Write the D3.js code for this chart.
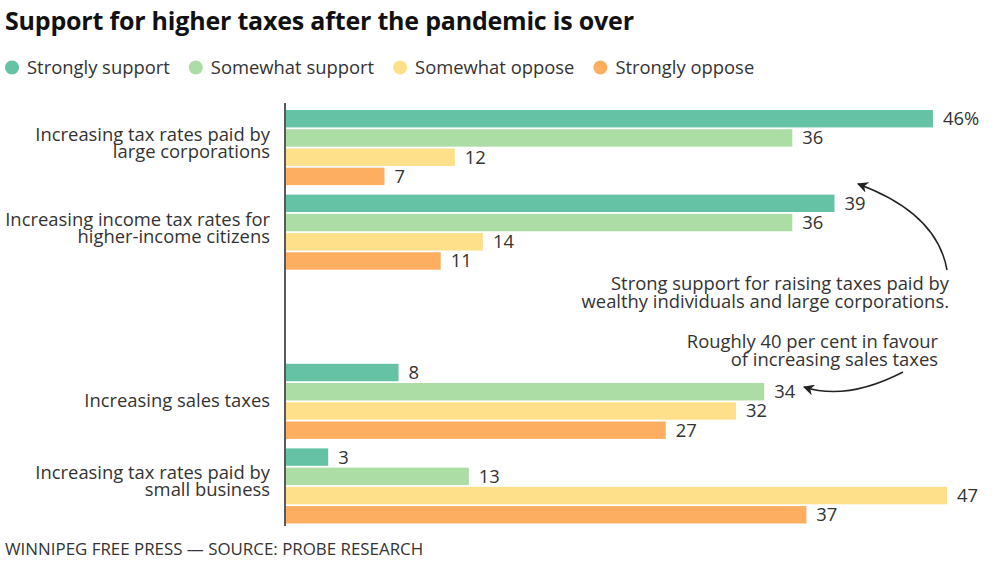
<!DOCTYPE html>
<html lang="en">
<head>
    <meta charset="UTF-8">
    <title>Support for higher taxes</title>
    <script src="https://cdn.jsdelivr.net/npm/d3@7"></script>
    <style>
        body { margin: 0; background: #fff; }
        text { font-family: "Open Sans", sans-serif; fill: #333; }
    </style>
</head>
<body>
    <svg width="999" height="561" id="mainsvg"></svg>
    <script>
        // data
        const categories = [
            'Increasing tax rates paid by\nlarge corporations',
            'Increasing income tax rates for\nhigher-income citizens',
            '',   // empty slot, leaves room for the notes
            'Increasing sales taxes',
            'Increasing tax rates paid by\nsmall business'
        ];
        const seriesNames = ['Strongly support', 'Somewhat support', 'Somewhat oppose', 'Strongly oppose'];
        const seriesColors = ['#66c2a5', '#abdda4', '#fee08b', '#fdae61'];
        const values = [
            [46, 36, 12, 7],
            [39, 36, 14, 11],
            null,
            [8, 34, 32, 27],
            [3, 13, 47, 37]
        ];
        const notes = [
            { lines: ['Strong support for raising taxes paid by', 'wealthy individuals and large corporations.'], x: 949, y: 290,
              from: [947, 270], ctrl: [937, 213], to: [858, 184] },
            { lines: ['Roughly 40 per cent in favour', 'of increasing sales taxes'], x: 938, y: 348,
              from: [903, 372], ctrl: [847, 401], to: [804, 387] }
        ];

        const svg = d3.select('#mainsvg');
        const keys = categories.map((c, i) => 'c' + i);
        const fs = 18.4;

        const x = d3.scaleLinear().domain([0, 47]).range([286, 947]);
        const y0 = d3.scaleBand().domain(keys).range([110, 523.5]).paddingInner(0.112).paddingOuter(0);
        const y1 = d3.scaleBand().domain(seriesNames).range([0, y0.bandwidth()]).paddingInner(0.094);

        // title
        svg.append('text')
            .attr('x', 5).attr('y', 30)
            .attr('font-size', 25).attr('font-weight', 700)
            .attr('letter-spacing', -0.2)
            .style('fill', '#111')
            .text('Support for higher taxes after the pandemic is over');

        // legend
        let lx = 12;
        seriesNames.forEach((s, i) => {
            svg.append('circle').attr('cx', lx).attr('cy', 67.5).attr('r', 7).attr('fill', seriesColors[i]);
            const t = svg.append('text')
                .attr('x', lx + 15).attr('y', 67.5).attr('dy', '0.35em')
                .attr('font-size', fs).text(s);
            lx += 15 + t.node().getComputedTextLength() + 26;
        });

        // bars
        const groups = svg.selectAll('g.group')
            .data(values.map((v, i) => ({ key: keys[i], label: categories[i], vals: v })).filter(d => d.vals))
            .join('g').attr('class', 'group')
            .attr('transform', d => `translate(0,${y0(d.key)})`);

        groups.selectAll('rect')
            .data(d => d.vals.map((v, j) => ({ s: seriesNames[j], v, j })))
            .join('rect')
            .attr('x', x(0))
            .attr('y', d => y1(d.s))
            .attr('width', d => x(d.v) - x(0))
            .attr('height', y1.bandwidth())
            .attr('fill', d => seriesColors[d.j]);

        groups.selectAll('text.val')
            .data((d, i) => d.vals.map((v, j) => ({ s: seriesNames[j], v, first: i === 0 && j === 0 })))
            .join('text').attr('class', 'val')
            .attr('x', d => x(d.v) + 10)
            .attr('y', d => y1(d.s) + y1.bandwidth() / 2)
            .attr('dy', '0.35em')
            .attr('font-size', fs)
            .text(d => d.first ? d.v + '%' : d.v);

        // category labels
        groups.each(function(d) {
            const lines = d.label.split('\n');
            const c = y0.bandwidth() / 2;
            const t = d3.select(this).append('text')
                .attr('text-anchor', 'end')
                .attr('font-size', fs);
            lines.forEach((l, k) => {
                const off = lines.length === 1 ? 6 : 2 + (k - (lines.length - 1) / 2) * 17;
                t.append('tspan').attr('x', 270).attr('y', c + off).text(l);
            });
        });

        // axis line
        svg.append('line')
            .attr('x1', 285).attr('x2', 285)
            .attr('y1', 103).attr('y2', 526)
            .attr('stroke', '#222').attr('stroke-width', 1.5);

        // notes with arrows
        svg.append('defs').append('marker')
            .attr('id', 'arrow')
            .attr('viewBox', '0 0 10 10')
            .attr('refX', 9).attr('refY', 5)
            .attr('markerWidth', 11).attr('markerHeight', 11)
            .attr('markerUnits', 'userSpaceOnUse')
            .attr('orient', 'auto')
            .append('path').attr('d', 'M0,0 L10,5 L0,10 L3,5 Z').attr('fill', '#222');

        notes.forEach(n => {
            const t = svg.append('text').attr('text-anchor', 'end').attr('font-size', fs);
            n.lines.forEach((l, k) => {
                t.append('tspan').attr('x', n.x).attr('y', n.y + k * 17.5).text(l);
            });
            const p = d3.path();
            p.moveTo(n.from[0], n.from[1]);
            p.quadraticCurveTo(n.ctrl[0], n.ctrl[1], n.to[0], n.to[1]);
            svg.append('path')
                .attr('d', p.toString())
                .attr('fill', 'none')
                .attr('stroke', '#222').attr('stroke-width', 1.5)
                .attr('marker-end', 'url(#arrow)');
        });

        // footer
        svg.append('text')
            .attr('x', 5).attr('y', 555)
            .attr('font-size', 16.9)
            .text('WINNIPEG FREE PRESS — SOURCE: PROBE RESEARCH');
    </script>
</body>
</html>
